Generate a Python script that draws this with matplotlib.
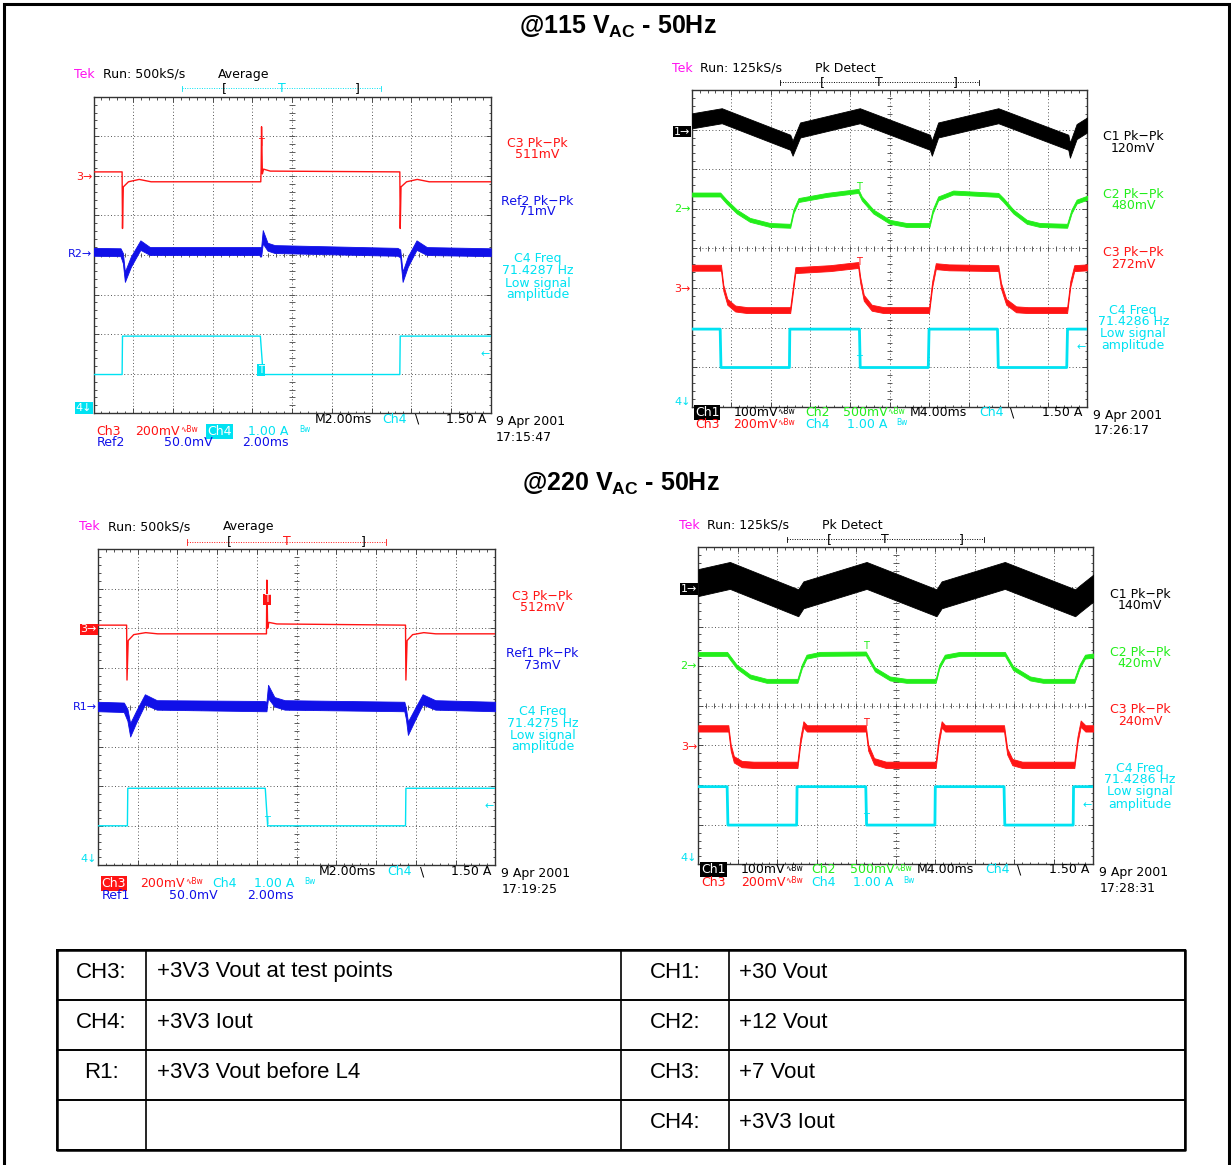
import numpy as np
import matplotlib.pyplot as plt
from matplotlib.lines import Line2D

W, H = 1231, 1165

RED = '#ff1414'
BLUE = '#1010e8'
CYAN = '#00e2f2'
GREEN = '#22ee1a'
BLACK = '#000000'
MAGENTA = '#ff10f0'

TITLES = ['@115 V$_{\\mathregular{AC}}$ - 50Hz', '@220 V$_{\\mathregular{AC}}$ - 50Hz']

# all trace values are in graticule divisions (x: 0..10, y: -4..4)

# 115 VAC, left scope (M2.00ms, Average)
TL_CH3_T = [0, 0.72, 0.73, 0.75, 0.88, 1.15, 1.45, 4.21, 4.22, 4.23, 4.25, 4.28, 4.45,
            7.71, 7.72, 7.74, 7.88, 8.15, 8.45, 10]
TL_CH3_V = [2.10, 2.10, 0.67, 1.72, 1.85, 1.91, 1.85, 1.85, 2.2, 3.24, 2.05, 2.17, 2.12,
            2.10, 0.67, 1.72, 1.85, 1.91, 1.85, 1.85]
TL_R2_T = [0, 0.68, 0.74, 0.79, 0.94, 1.18, 1.42, 4.16, 4.22, 4.26, 4.38, 4.56,
           7.65, 7.72, 7.78, 7.91, 8.13, 8.39, 10]
TL_R2_V = [0.08, 0.07, -0.08, -0.55, -0.17, 0.25, 0.10, 0.10, 0.08, 0.46, 0.21, 0.15,
           0.08, 0.04, -0.55, -0.17, 0.25, 0.10, 0.07]
TL_R2_HW = [0.10, 0.10, 0.13, 0.13, 0.13, 0.12, 0.10, 0.10, 0.12, 0.17, 0.10, 0.10,
            0.10, 0.10, 0.13, 0.13, 0.12, 0.10, 0.10]
TL_CH4_T = [0, 0.72, 0.73, 4.20, 4.27, 7.71, 7.72, 10]
TL_CH4_V = [-3.02, -3.02, -2.05, -2.05, -3.02, -3.02, -2.05, -2.05]
TL_READ = ['C3 Pk\u2212Pk', '511mV', 'Ref2 Pk\u2212Pk', '71mV',
           'C4 Freq', '71.4287 Hz', 'Low signal', 'amplitude']

# 115 VAC, right scope (M4.00ms, Pk Detect)
TR_CH1_T = [0, 0.76, 2.49, 2.55, 2.74, 4.25, 6.02, 6.07, 6.23, 7.75, 9.52, 9.56, 9.73, 10]
TR_CH1_V = [3.22, 3.35, 2.68, 2.53, 2.99, 3.35, 2.68, 2.53, 2.99, 3.35, 2.68, 2.48, 2.95, 3.12]
TR_CH1_BAND = 0.19
TR_CH2_T = [0, 0.72, 0.88, 1.14, 1.47, 1.98, 2.49, 2.57, 2.70, 3.41, 4.21, 4.30, 4.59, 5.01,
            5.43, 6.01, 6.09, 6.23, 6.61, 7.75, 7.88, 8.13, 8.47, 8.80, 9.49, 9.60, 9.73, 10]
TR_CH2_V = [1.36, 1.36, 1.18, 0.93, 0.72, 0.59, 0.57, 0.93, 1.22, 1.35, 1.45, 1.26, 0.93, 0.67,
            0.59, 0.59, 0.93, 1.26, 1.41, 1.35, 1.22, 0.93, 0.67, 0.59, 0.57, 0.93, 1.18, 1.28]
TR_CH3_T = [0, 0.74, 0.80, 0.90, 1.10, 1.40, 2.49, 2.55, 2.62, 3.50, 4.21, 4.26, 4.35, 4.55,
            4.85, 6.00, 6.08, 6.17, 6.50, 7.75, 7.82, 7.95, 8.20, 8.50, 9.49, 9.57, 9.67, 10]
TR_CH3_V = [-0.49, -0.49, -1.0, -1.35, -1.52, -1.56, -1.56, -1.1, -0.55, -0.5, -0.42, -0.8, -1.25, -1.5,
            -1.56, -1.56, -0.9, -0.45, -0.48, -0.5, -0.95, -1.35, -1.54, -1.56, -1.56, -0.9, -0.5, -0.48]
TR_CH4_T = [0, 0.72, 0.74, 2.47, 2.48, 4.24, 4.26, 5.98, 6.0, 7.73, 7.75, 9.48, 9.5, 10]
TR_CH4_V = [-2.04, -2.04, -3.01, -3.01, -2.04, -2.04, -3.01, -3.01, -2.04, -2.04, -3.01, -3.01, -2.04, -2.04]
TR_READ = ['C1 Pk\u2212Pk', '120mV', 'C2 Pk\u2212Pk', '480mV', 'C3 Pk\u2212Pk', '272mV',
           'C4 Freq', '71.4286 Hz', 'Low signal', 'amplitude']

# 220 VAC, left scope
BL_CH3_T = [0, 0.72, 0.73, 0.76, 0.90, 1.20, 1.50, 4.24, 4.25, 4.27, 4.30, 4.50,
            7.74, 7.75, 7.78, 7.92, 8.20, 8.50, 10]
BL_CH3_V = [2.08, 2.08, 0.69, 1.69, 1.84, 1.89, 1.86, 1.86, 3.22, 2.0, 2.15, 2.11,
            2.08, 0.69, 1.69, 1.84, 1.89, 1.86, 1.86]
BL_R1_T = [0, 0.65, 0.74, 0.81, 0.96, 1.18, 1.48, 4.18, 4.24, 4.28, 4.44, 4.70,
           7.71, 7.75, 7.80, 7.97, 8.17, 8.49, 10]
BL_R1_V = [0.02, 0.0, -0.19, -0.57, -0.24, 0.20, 0.06, 0.03, 0.02, 0.40, 0.14, 0.06,
           0.02, -0.15, -0.53, -0.19, 0.20, 0.06, 0.02]
BL_R1_HW = [0.12, 0.12, 0.15, 0.17, 0.15, 0.13, 0.12, 0.13, 0.12, 0.17, 0.12, 0.12,
            0.12, 0.14, 0.17, 0.15, 0.13, 0.12, 0.12]
BL_CH4_T = [0, 0.74, 0.75, 4.21, 4.27, 7.74, 7.75, 10]
BL_CH4_V = [-3.0, -3.0, -2.05, -2.05, -3.0, -3.0, -2.05, -2.05]
BL_READ = ['C3 Pk\u2212Pk', '512mV', 'Ref1 Pk\u2212Pk', '73mV',
           'C4 Freq', '71.4275 Hz', 'Low signal', 'amplitude']

# 220 VAC, right scope
BR_CH1_T = [0, 0.80, 2.53, 2.66, 4.26, 6.03, 6.16, 7.76, 9.54, 9.66, 10]
BR_CH1_V = [3.11, 3.29, 2.60, 2.80, 3.29, 2.60, 2.80, 3.29, 2.60, 2.70, 2.97]
BR_CH1_BAND = 0.34
BR_CH2_T = [0, 0.73, 0.97, 1.31, 1.73, 2.51, 2.62, 2.74, 3.08, 4.24, 4.47, 4.85, 5.27,
            6.01, 6.10, 6.24, 6.62, 7.76, 7.97, 8.40, 8.73, 9.52, 9.65, 9.79, 10]
BR_CH2_V = [1.31, 1.31, 0.99, 0.74, 0.63, 0.63, 0.99, 1.24, 1.31, 1.32, 0.92, 0.69, 0.63,
            0.63, 0.99, 1.24, 1.31, 1.31, 0.95, 0.69, 0.63, 0.63, 0.99, 1.24, 1.27]
BR_CH3_T = [0, 0.76, 0.82, 0.90, 1.10, 1.40, 2.51, 2.58, 2.66, 2.75, 4.24, 4.30, 4.45, 4.75,
            6.01, 6.08, 6.16, 6.25, 7.74, 7.82, 7.95, 8.20, 9.52, 9.60, 9.68, 9.80, 10]
BR_CH3_V = [-0.57, -0.57, -1.05, -1.35, -1.47, -1.49, -1.49, -0.9, -0.47, -0.57, -0.57, -1.05, -1.4, -1.49,
            -1.49, -0.9, -0.47, -0.57, -0.57, -1.15, -1.42, -1.49, -1.49, -0.85, -0.45, -0.57, -0.57]
BR_CH4_T = [0, 0.73, 0.75, 2.49, 2.50, 4.24, 4.26, 5.99, 6.0, 7.74, 7.76, 9.49, 9.50, 10]
BR_CH4_V = [-2.04, -2.04, -3.01, -3.01, -2.04, -2.04, -3.01, -3.01, -2.04, -2.04, -3.01, -3.01, -2.04, -2.04]
BR_READ = ['C1 Pk\u2212Pk', '140mV', 'C2 Pk\u2212Pk', '420mV', 'C3 Pk\u2212Pk', '240mV',
           'C4 Freq', '71.4286 Hz', 'Low signal', 'amplitude']

TABLE_LEFT_KEY = ['CH3:', 'CH4:', 'R1:', '']
TABLE_LEFT_DESC = ['+3V3 Vout at test points', '+3V3 Iout', '+3V3 Vout before L4', '']
TABLE_RIGHT_KEY = ['CH1:', 'CH2:', 'CH3:', 'CH4:']
TABLE_RIGHT_DESC = ['+30 Vout', '+12 Vout', '+7 Vout', '+3V3 Iout']

plt.rcParams['font.family'] = 'DejaVu Sans'

fig = plt.figure(figsize=(W / 100, H / 100), dpi=100)


def scope_axes(x0, y0, x1, y1):
    ax = fig.add_axes([x0 / W, 1 - y1 / H, (x1 - x0) / W, (y1 - y0) / H])
    ax.set_xlim(0, 10)
    ax.set_ylim(-4, 4)
    for x in range(1, 10):
        ax.axvline(x, color='#555555', lw=0.7, ls=(0, (1, 2.4)), zorder=1)
    for y in range(-3, 4):
        ax.axhline(y, color='#555555', lw=0.7, ls=(0, (1, 2.4)), zorder=1)
    ax.vlines(np.arange(0.2, 10, 0.2), -0.06, 0.06, color='#444444', lw=0.6, zorder=1)
    ax.hlines(np.arange(-3.8, 4, 0.2), 4.93, 5.07, color='#444444', lw=0.6, zorder=1)
    ax.set_xticks(np.arange(0, 11, 1))
    ax.set_yticks(np.arange(-4, 5, 1))
    ax.set_xticks(np.arange(0, 10.01, 0.2), minor=True)
    ax.set_yticks(np.arange(-4, 4.01, 0.2), minor=True)
    ax.tick_params(which='both', direction='in', top=True, right=True,
                   labelbottom=False, labelleft=False, color='#333333', width=0.6)
    ax.tick_params(which='major', length=3.5)
    ax.tick_params(which='minor', length=1.8)
    for s in ax.spines.values():
        s.set_color('#333333')
        s.set_linewidth(1.0)
    return ax


def label(ax, x, y, s, color, ha='left', box=None, size=9):
    if box:
        ax.text(x, y, s, color='white', ha=ha, va='center', fontsize=size,
                bbox=dict(boxstyle='square,pad=0.08', fc=box, ec='none'))
    else:
        ax.text(x, y, s, color=color, ha=ha, va='center', fontsize=size)


def band(ax, t, v, hw, color):
    v = np.asarray(v, dtype=float)
    hw = np.asarray(hw, dtype=float)
    ax.fill_between(t, v - hw, v + hw, color=color, lw=0.6, zorder=3)


def trig_bar(ax, x0, x1, xa, xb, xt, y, color):
    ax.plot([x0, x1], [y, y], color=color, lw=0.7, ls=(0, (1, 1.5)), clip_on=False)
    for x in (x0, x1):
        ax.plot([x, x], [y - 0.07, y + 0.07], color=color, lw=0.6, clip_on=False)
    label(ax, xa, y, '[', BLACK, ha='center')
    label(ax, xb, y, ']', BLACK, ha='center')
    label(ax, xt, y, 'T', color, ha='center')


def header(ax, x_tek, x_run, x_mode, y, run, mode):
    label(ax, x_tek, y, 'Tek', MAGENTA)
    label(ax, x_run, y, 'Run: ' + run, BLACK)
    label(ax, x_mode, y, mode, BLACK)


def readouts(ax, x, ys, texts, colors):
    for y, s, c in zip(ys, texts, colors):
        label(ax, x, y, s, c, ha='center')


BW = '\u223fBw'

# ---------------- 115 VAC left
ax = scope_axes(93.5, 96.7, 490.8, 413.3)
ax.plot(TL_CH3_T, TL_CH3_V, color=RED, lw=1.0, zorder=3)
band(ax, TL_R2_T, TL_R2_V, TL_R2_HW, BLUE)
ax.plot(TL_CH4_T, TL_CH4_V, color=CYAN, lw=1.0, zorder=3)
header(ax, -0.5, 0.24, 3.12, 4.57, '500kS/s', 'Average')
trig_bar(ax, 2.22, 7.24, 3.29, 6.65, 4.73, 4.21, CYAN)
label(ax, 4.22, 2.82, 'T', RED, ha='center', size=7)
label(ax, 4.22, -2.9, 'T', CYAN, ha='center', box=CYAN, size=7)
label(ax, -0.03, 1.98, '3\u2192', RED, ha='right', size=8)
label(ax, -0.03, 0.02, 'R2\u2192', BLUE, ha='right', size=8)
label(ax, -0.03, -3.86, '4\u2193', CYAN, ha='right', box=CYAN, size=8)
label(ax, 9.97, -2.5, '\u2190', CYAN, ha='right', size=8)
readouts(ax, 11.18, [2.82, 2.54, 1.36, 1.09, -0.1, -0.4, -0.71, -0.99], TL_READ,
         [RED, RED, BLUE, BLUE, CYAN, CYAN, CYAN, CYAN])
label(ax, 5.56, -4.15, 'M2.00ms', BLACK)
label(ax, 7.26, -4.15, 'Ch4', CYAN)
label(ax, 8.08, -4.15, '\\', BLACK)
label(ax, 9.89, -4.15, '1.50 A', BLACK, ha='right')
label(ax, 0.07, -4.46, 'Ch3', RED)
label(ax, 1.05, -4.46, '200mV', RED)
label(ax, 2.18, -4.42, BW, RED, size=5.5)
label(ax, 2.86, -4.46, 'Ch4', CYAN, box=CYAN)
label(ax, 3.9, -4.46, '1.00 A', CYAN)
label(ax, 5.17, -4.42, 'Bw', CYAN, size=5.5)
label(ax, 0.07, -4.74, 'Ref2', BLUE)
label(ax, 1.77, -4.74, '50.0mV', BLUE)
label(ax, 3.75, -4.74, '2.00ms', BLUE)
label(ax, 10.13, -4.21, '9 Apr 2001', BLACK)
label(ax, 10.13, -4.61, '17:15:47', BLACK)

# ---------------- 115 VAC right
ax = scope_axes(691.7, 90.0, 1087.3, 406.7)
band(ax, TR_CH1_T, TR_CH1_V, [TR_CH1_BAND] * len(TR_CH1_T), BLACK)
band(ax, TR_CH2_T, TR_CH2_V, [0.05] * len(TR_CH2_T), GREEN)
band(ax, TR_CH3_T, TR_CH3_V, [0.075] * len(TR_CH3_T), RED)
ax.plot(TR_CH4_T, TR_CH4_V, color=CYAN, lw=2.0, zorder=3)
header(ax, -0.5, 0.21, 3.12, 4.55, '125kS/s', 'Pk Detect')
trig_bar(ax, 2.22, 7.25, 3.30, 6.66, 4.72, 4.19, BLACK)
label(ax, 4.23, 1.55, 'T', GREEN, ha='center', size=7)
label(ax, 4.23, -0.34, 'T', RED, ha='center', size=7)
label(ax, 4.23, -2.82, 'T', CYAN, ha='center', size=7)
label(ax, -0.03, 2.95, '1\u2192', BLACK, ha='right', box=BLACK, size=8)
label(ax, -0.03, 0.99, '2\u2192', GREEN, ha='right', size=8)
label(ax, -0.03, -1.03, '3\u2192', RED, ha='right', size=8)
label(ax, -0.03, -3.87, '4\u2193', CYAN, ha='right', size=8)
label(ax, 9.97, -2.5, '\u2190', CYAN, ha='right', size=8)
readouts(ax, 11.16, [2.82, 2.53, 1.36, 1.07, -0.1, -0.4, -1.57, -1.86, -2.16, -2.46], TR_READ,
         [BLACK, BLACK, GREEN, GREEN, RED, RED, CYAN, CYAN, CYAN, CYAN])
label(ax, 0.08, -4.15, 'Ch1', BLACK, box=BLACK)
label(ax, 1.05, -4.15, '100mV', BLACK)
label(ax, 2.17, -4.11, BW, BLACK, size=5.5)
label(ax, 2.86, -4.15, 'Ch2', GREEN)
label(ax, 3.83, -4.15, '500mV', GREEN)
label(ax, 4.95, -4.11, BW, GREEN, size=5.5)
label(ax, 5.52, -4.15, 'M4.00ms', BLACK)
label(ax, 7.27, -4.15, 'Ch4', CYAN)
label(ax, 8.05, -4.15, '\\', BLACK)
label(ax, 9.88, -4.15, '1.50 A', BLACK, ha='right')
label(ax, 0.08, -4.45, 'Ch3', RED)
label(ax, 1.05, -4.45, '200mV', RED)
label(ax, 2.17, -4.41, BW, RED, size=5.5)
label(ax, 2.86, -4.45, 'Ch4', CYAN)
label(ax, 3.92, -4.45, '1.00 A', CYAN)
label(ax, 5.18, -4.41, 'Bw', CYAN, size=5.5)
label(ax, 10.15, -4.21, '9 Apr 2001', BLACK)
label(ax, 10.15, -4.61, '17:26:17', BLACK)

# ---------------- 220 VAC left
ax = scope_axes(98.0, 549.3, 495.3, 865.3)
ax.plot(BL_CH3_T, BL_CH3_V, color=RED, lw=1.0, zorder=3)
band(ax, BL_R1_T, BL_R1_V, BL_R1_HW, BLUE)
ax.plot(BL_CH4_T, BL_CH4_V, color=CYAN, lw=1.0, zorder=3)
header(ax, -0.48, 0.24, 3.14, 4.57, '500kS/s', 'Average')
trig_bar(ax, 2.25, 7.25, 3.31, 6.68, 4.75, 4.19, RED)
label(ax, 4.25, 2.73, 'T', RED, ha='center', box=RED, size=7)
label(ax, 4.25, -2.89, 'T', CYAN, ha='center', size=7)
label(ax, -0.03, 1.97, '3\u2192', RED, ha='right', box=RED, size=8)
label(ax, -0.03, 0.0, 'R1\u2192', BLUE, ha='right', size=8)
label(ax, -0.03, -3.85, '4\u2193', CYAN, ha='right', size=8)
label(ax, 9.97, -2.5, '\u2190', CYAN, ha='right', size=8)
readouts(ax, 11.19, [2.8, 2.52, 1.35, 1.07, -0.11, -0.4, -0.71, -1.0], BL_READ,
         [RED, RED, BLUE, BLUE, CYAN, CYAN, CYAN, CYAN])
label(ax, 5.56, -4.16, 'M2.00ms', BLACK)
label(ax, 7.27, -4.16, 'Ch4', CYAN)
label(ax, 8.1, -4.16, '\\', BLACK)
label(ax, 9.91, -4.16, '1.50 A', BLACK, ha='right')
label(ax, 0.09, -4.46, 'Ch3', RED, box=RED)
label(ax, 1.07, -4.46, '200mV', RED)
label(ax, 2.2, -4.42, BW, RED, size=5.5)
label(ax, 2.87, -4.46, 'Ch4', CYAN)
label(ax, 3.92, -4.46, '1.00 A', CYAN)
label(ax, 5.18, -4.42, 'Bw', CYAN, size=5.5)
label(ax, 0.09, -4.77, 'Ref1', BLUE)
label(ax, 1.79, -4.77, '50.0mV', BLUE)
label(ax, 3.76, -4.77, '2.00ms', BLUE)
label(ax, 10.15, -4.2, '9 Apr 2001', BLACK)
label(ax, 10.15, -4.61, '17:19:25', BLACK)

# ---------------- 220 VAC right
ax = scope_axes(698.3, 547.3, 1093.3, 864.3)
band(ax, BR_CH1_T, BR_CH1_V, [BR_CH1_BAND] * len(BR_CH1_T), BLACK)
band(ax, BR_CH2_T, BR_CH2_V, [0.05] * len(BR_CH2_T), GREEN)
band(ax, BR_CH3_T, BR_CH3_V, [0.08] * len(BR_CH3_T), RED)
ax.plot(BR_CH4_T, BR_CH4_V, color=CYAN, lw=2.0, zorder=3)
header(ax, -0.48, 0.23, 3.14, 4.56, '125kS/s', 'Pk Detect')
trig_bar(ax, 2.24, 7.23, 3.32, 6.67, 4.73, 4.2, BLACK)
label(ax, 4.24, 1.5, 'T', GREEN, ha='center', size=7)
label(ax, 4.24, -0.44, 'T', RED, ha='center', size=7)
label(ax, 4.24, -2.84, 'T', CYAN, ha='center', size=7)
label(ax, -0.03, 2.95, '1\u2192', BLACK, ha='right', box=BLACK, size=8)
label(ax, -0.03, 1.0, '2\u2192', GREEN, ha='right', size=8)
label(ax, -0.03, -1.03, '3\u2192', RED, ha='right', size=8)
label(ax, -0.03, -3.85, '4\u2193', CYAN, ha='right', size=8)
label(ax, 9.97, -2.5, '\u2190', CYAN, ha='right', size=8)
readouts(ax, 11.18, [2.81, 2.52, 1.34, 1.06, -0.1, -0.4, -1.58, -1.87, -2.17, -2.48], BR_READ,
         [BLACK, BLACK, GREEN, GREEN, RED, RED, CYAN, CYAN, CYAN, CYAN])
label(ax, 0.08, -4.14, 'Ch1', BLACK, box=BLACK)
label(ax, 1.08, -4.14, '100mV', BLACK)
label(ax, 2.2, -4.1, BW, BLACK, size=5.5)
label(ax, 2.87, -4.14, 'Ch2', GREEN)
label(ax, 3.84, -4.14, '500mV', GREEN)
label(ax, 4.96, -4.1, BW, GREEN, size=5.5)
label(ax, 5.54, -4.14, 'M4.00ms', BLACK)
label(ax, 7.26, -4.14, 'Ch4', CYAN)
label(ax, 8.06, -4.14, '\\', BLACK)
label(ax, 9.9, -4.14, '1.50 A', BLACK, ha='right')
label(ax, 0.08, -4.45, 'Ch3', RED)
label(ax, 1.08, -4.45, '200mV', RED)
label(ax, 2.2, -4.41, BW, RED, size=5.5)
label(ax, 2.87, -4.45, 'Ch4', CYAN)
label(ax, 3.92, -4.45, '1.00 A', CYAN)
label(ax, 5.19, -4.41, 'Bw', CYAN, size=5.5)
label(ax, 10.15, -4.2, '9 Apr 2001', BLACK)
label(ax, 10.15, -4.6, '17:28:31', BLACK)

# ---------------- page overlay: frame, titles, legend table
pg = fig.add_axes([0, 0, 1, 1], zorder=-1)
pg.set_xlim(0, W)
pg.set_ylim(H, 0)
pg.axis('off')
pg.plot([4, 4, 1229, 1229], [H, 4, 4, H], color=BLACK, lw=2.2, solid_joinstyle='miter')

for (cx, cy), title in zip([(618, 34), (621, 491)], TITLES):
    pg.text(cx, cy, title, ha='center', va='baseline', fontsize=18,
            family='Liberation Sans', weight='bold')

col_x = [57, 146, 621, 729, 1185]
row_y = [950, 1000, 1050, 1100, 1150]
for y in row_y:
    pg.plot([col_x[0], col_x[-1]], [y, y], color=BLACK, lw=1.4)
for x in col_x:
    pg.plot([x, x], [row_y[0], row_y[-1]], color=BLACK, lw=1.2)
pg.plot([col_x[0], col_x[-1], col_x[-1], col_x[0], col_x[0]],
        [row_y[0], row_y[0], row_y[-1], row_y[-1], row_y[0]], color=BLACK, lw=1.8)

for i in range(len(TABLE_LEFT_KEY)):
    yc = row_y[i] + 22
    pg.text((col_x[0] + col_x[1]) / 2, yc, TABLE_LEFT_KEY[i], ha='center', va='center',
            fontsize=16, family='Liberation Sans')
    pg.text(col_x[1] + 11, yc, TABLE_LEFT_DESC[i], ha='left', va='center',
            fontsize=16, family='Liberation Sans')
    pg.text((col_x[2] + col_x[3]) / 2, yc, TABLE_RIGHT_KEY[i], ha='center', va='center',
            fontsize=16, family='Liberation Sans')
    pg.text(col_x[3] + 10, yc, TABLE_RIGHT_DESC[i], ha='left', va='center',
            fontsize=16, family='Liberation Sans')

fig.savefig('out.png', dpi=100)
